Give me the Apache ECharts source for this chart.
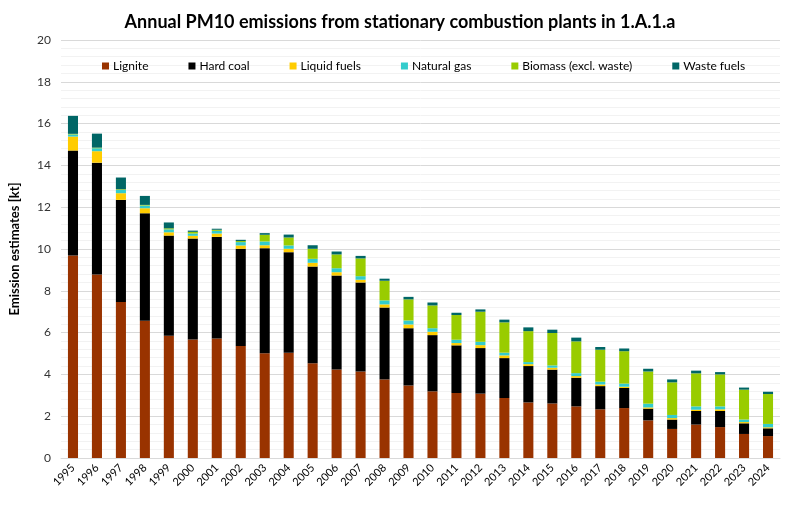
<!DOCTYPE html>
<html>
<head>
<meta charset="utf-8">
<script src="https://cdn.jsdelivr.net/npm/echarts@6/dist/echarts.min.js"></script>
<style>html,body{margin:0;padding:0;background:#fff}#c{width:800px;height:521px}</style>
</head>
<body>
<div id="c"></div>
<script>
const years = ['1995','1996','1997','1998','1999','2000','2001','2002','2003','2004','2005','2006','2007','2008','2009','2010','2011','2012','2013','2014','2015','2016','2017','2018','2019','2020','2021','2022','2023','2024'];
const lignite  = [9.69,8.78,7.46,6.57,5.85,5.67,5.72,5.36,5.01,5.04,4.53,4.24,4.14,3.76,3.47,3.19,3.11,3.08,2.87,2.66,2.61,2.47,2.33,2.39,1.80,1.39,1.60,1.48,1.15,1.05];
const hardCoal = [5.02,5.35,4.89,5.14,4.79,4.83,4.86,4.65,5.03,4.81,4.63,4.49,4.26,3.44,2.74,2.69,2.28,2.18,1.91,1.74,1.62,1.37,1.11,0.96,0.56,0.45,0.65,0.77,0.51,0.37];
const liquid   = [0.67,0.55,0.32,0.24,0.16,0.13,0.16,0.16,0.14,0.16,0.18,0.16,0.13,0.15,0.18,0.16,0.11,0.14,0.13,0.09,0.09,0.08,0.08,0.06,0.06,0.07,0.06,0.08,0.06,0.05];
const gas      = [0.10,0.14,0.16,0.13,0.14,0.11,0.13,0.16,0.18,0.16,0.19,0.19,0.17,0.19,0.19,0.17,0.16,0.16,0.13,0.10,0.11,0.14,0.13,0.15,0.18,0.15,0.16,0.14,0.12,0.16];
const biomass  = [0.03,0.03,0.03,0.03,0.05,0.08,0.05,0.05,0.32,0.38,0.48,0.66,0.85,0.94,1.01,1.09,1.18,1.44,1.45,1.48,1.55,1.52,1.53,1.55,1.54,1.56,1.58,1.53,1.43,1.43];
const waste    = [0.86,0.67,0.56,0.43,0.28,0.06,0.05,0.06,0.08,0.14,0.17,0.14,0.12,0.10,0.12,0.14,0.11,0.11,0.13,0.18,0.16,0.18,0.13,0.13,0.13,0.14,0.13,0.11,0.10,0.11];
const seriesNames = ['Lignite','Hard coal','Liquid fuels','Natural gas','Biomass (excl. waste)','Waste fuels'];
const seriesColors = ['#993300','#000000','#FFCC00','#33CCCC','#99CC00','#006666'];
const seriesData = [lignite, hardCoal, liquid, gas, biomass, waste];

const FONT = 'Lato, "Open Sans", sans-serif';
const chart = echarts.init(document.getElementById('c'), null, {renderer:'canvas'});
chart.setOption({
  animation:false,
  backgroundColor:'#fff',
  textStyle:{fontFamily:FONT},
  title:{
    text:'Annual PM10 emissions from stationary combustion plants in 1.A.1.a',
    left:'center', top:8,
    textStyle:{fontFamily:FONT, fontSize:18, fontWeight:'bold', color:'#000'}
  },
  legend:{
    top:55, left:97,
    icon:'rect', itemWidth:7, itemHeight:7, itemGap:40,
    textStyle:{fontFamily:FONT, fontSize:12, color:'#000', padding:[0,0,0,-1]},
    data:seriesNames
  },
  grid:{left:61, right:20, top:40, bottom:63, containLabel:false},
  xAxis:{
    type:'category', data:years,
    axisLine:{lineStyle:{color:'#d9d9d9'}},
    axisTick:{show:false},
    axisLabel:{rotate:45, fontSize:11, color:'#000', fontFamily:FONT, margin:8}
  },
  yAxis:{
    type:'value', min:0, max:20, interval:2,
    name:'Emission estimates [kt]', nameLocation:'middle', nameGap:40,
    nameTextStyle:{fontFamily:FONT, fontSize:13, fontWeight:'bold', color:'#000'},
    axisLine:{show:false}, axisTick:{show:false},
    axisLabel:{fontSize:12, color:'#333', fontFamily:FONT, margin:10},
    splitLine:{lineStyle:{color:'#d9d9d9'}},
    minorTick:{show:false, splitNumber:5},
    minorSplitLine:{show:true, lineStyle:{color:'#f2f2f2'}}
  },
  series: seriesNames.map((n,i)=>({
    name:n, type:'bar', stack:'total', data:seriesData[i],
    barWidth:'42%',
    itemStyle:{color:seriesColors[i]}
  }))
});
</script>
</body>
</html>
